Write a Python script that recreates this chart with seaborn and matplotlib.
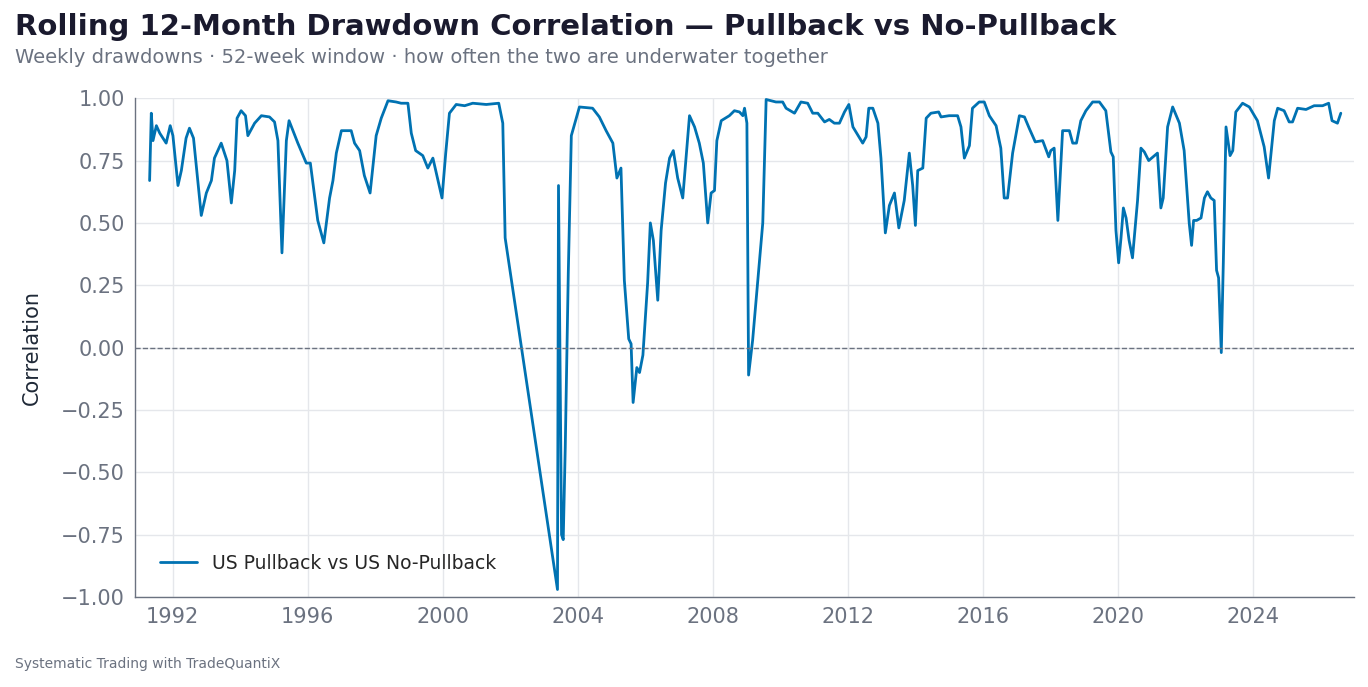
import matplotlib
matplotlib.use("Agg")
import matplotlib.pyplot as plt
import seaborn as sns
import pandas as pd
import numpy as np

# fractional years and rolling correlation
years = [1991.32, 1991.37, 1991.42, 1991.52, 1991.62, 1991.81, 1991.93, 1992.01, 1992.16, 1992.26,
         1992.40, 1992.50, 1992.62, 1992.85, 1993.00, 1993.15, 1993.24, 1993.44, 1993.61, 1993.74,
         1993.84, 1993.91, 1994.03, 1994.16, 1994.23, 1994.43, 1994.63, 1994.87, 1995.02, 1995.12,
         1995.24, 1995.37, 1995.45, 1995.71, 1995.96, 1996.08, 1996.30, 1996.48, 1996.65, 1996.75,
         1996.85, 1997.00, 1997.29, 1997.39, 1997.54, 1997.68, 1997.85, 1998.03, 1998.18, 1998.38,
         1998.62, 1998.77, 1998.97, 1999.07, 1999.20, 1999.41, 1999.56, 1999.71, 1999.81, 1999.98,
         2000.09, 2000.20, 2000.40, 2000.65, 2000.89, 2001.29, 2001.66, 2001.78, 2001.85, 2003.40,
         2003.43, 2003.52, 2003.57, 2003.63, 2003.72, 2003.81, 2004.05, 2004.44, 2004.64, 2004.84,
         2005.04, 2005.16, 2005.28, 2005.38, 2005.51, 2005.58, 2005.64, 2005.75, 2005.83, 2005.93,
         2006.07, 2006.15, 2006.24, 2006.37, 2006.47, 2006.60, 2006.72, 2006.83, 2006.96, 2007.11,
         2007.31, 2007.46, 2007.60, 2007.72, 2007.85, 2007.95, 2008.05, 2008.12, 2008.25, 2008.49,
         2008.64, 2008.79, 2008.89, 2008.94, 2009.01, 2009.06, 2009.18, 2009.48, 2009.58, 2009.87,
         2010.07, 2010.17, 2010.42, 2010.61, 2010.81, 2010.96, 2011.11, 2011.31, 2011.45, 2011.60,
         2011.75, 2011.90, 2012.03, 2012.15, 2012.44, 2012.54, 2012.62, 2012.74, 2012.89, 2012.98,
         2013.11, 2013.23, 2013.38, 2013.51, 2013.67, 2013.82, 2013.92, 2014.00, 2014.07, 2014.22,
         2014.32, 2014.46, 2014.69, 2014.76, 2015.00, 2015.25, 2015.35, 2015.45, 2015.60, 2015.69,
         2015.89, 2016.04, 2016.19, 2016.39, 2016.53, 2016.63, 2016.73, 2016.88, 2017.08, 2017.23,
         2017.37, 2017.55, 2017.77, 2017.95, 2018.01, 2018.11, 2018.22, 2018.36, 2018.56, 2018.66,
         2018.77, 2018.90, 2019.05, 2019.25, 2019.45, 2019.64, 2019.79, 2019.86, 2019.94, 2020.02,
         2020.09, 2020.16, 2020.24, 2020.33, 2020.43, 2020.58, 2020.68, 2020.78, 2020.91, 2021.08,
         2021.17, 2021.27, 2021.34, 2021.47, 2021.62, 2021.82, 2021.96, 2022.11, 2022.18, 2022.24,
         2022.33, 2022.46, 2022.56, 2022.65, 2022.75, 2022.85, 2022.92, 2022.98, 2023.06, 2023.12,
         2023.20, 2023.32, 2023.40, 2023.49, 2023.69, 2023.89, 2024.13, 2024.33, 2024.46, 2024.63,
         2024.73, 2024.92, 2025.07, 2025.17, 2025.32, 2025.57, 2025.81, 2026.06, 2026.24, 2026.34,
         2026.50, 2026.60]
corr = [0.67, 0.94, 0.83, 0.89, 0.86, 0.82, 0.89, 0.85, 0.65, 0.71,
        0.84, 0.88, 0.84, 0.53, 0.62, 0.67, 0.76, 0.82, 0.75, 0.58,
        0.71, 0.92, 0.95, 0.93, 0.85, 0.90, 0.93, 0.925, 0.905, 0.83,
        0.38, 0.83, 0.91, 0.82, 0.74, 0.74, 0.51, 0.42, 0.60, 0.67,
        0.78, 0.87, 0.87, 0.82, 0.79, 0.69, 0.62, 0.85, 0.92, 0.99,
        0.985, 0.98, 0.98, 0.86, 0.79, 0.77, 0.72, 0.76, 0.70, 0.60,
        0.78, 0.94, 0.975, 0.97, 0.98, 0.975, 0.98, 0.90, 0.44, -0.97,
        0.65, -0.75, -0.77, -0.40, 0.30, 0.85, 0.965, 0.96, 0.925, 0.87,
        0.82, 0.68, 0.72, 0.27, 0.035, 0.015, -0.22, -0.08, -0.10, -0.03,
        0.26, 0.50, 0.43, 0.19, 0.47, 0.66, 0.76, 0.79, 0.68, 0.60,
        0.93, 0.885, 0.82, 0.74, 0.50, 0.62, 0.63, 0.83, 0.91, 0.93,
        0.95, 0.945, 0.93, 0.96, 0.90, -0.11, 0.03, 0.50, 0.995, 0.985,
        0.985, 0.96, 0.94, 0.985, 0.98, 0.94, 0.94, 0.905, 0.915, 0.90,
        0.90, 0.945, 0.975, 0.885, 0.82, 0.845, 0.96, 0.96, 0.90, 0.76,
        0.46, 0.57, 0.62, 0.48, 0.59, 0.78, 0.65, 0.49, 0.71, 0.72,
        0.92, 0.94, 0.945, 0.925, 0.93, 0.93, 0.885, 0.76, 0.81, 0.96,
        0.985, 0.985, 0.93, 0.89, 0.80, 0.60, 0.60, 0.78, 0.93, 0.925,
        0.88, 0.825, 0.83, 0.765, 0.79, 0.80, 0.51, 0.87, 0.87, 0.82,
        0.82, 0.91, 0.95, 0.985, 0.985, 0.95, 0.785, 0.765, 0.47, 0.34,
        0.44, 0.56, 0.52, 0.43, 0.36, 0.59, 0.80, 0.785, 0.75, 0.77,
        0.78, 0.56, 0.60, 0.885, 0.965, 0.90, 0.79, 0.50, 0.41, 0.51,
        0.51, 0.52, 0.60, 0.625, 0.60, 0.59, 0.31, 0.28, -0.02, 0.34,
        0.885, 0.77, 0.79, 0.945, 0.98, 0.965, 0.91, 0.805, 0.68, 0.91,
        0.96, 0.95, 0.905, 0.905, 0.96, 0.955, 0.97, 0.97, 0.98, 0.91,
        0.90, 0.94]

df = pd.DataFrame({"year": years, "corr": corr})

sns.set_theme(style="whitegrid")
plt.rcParams['font.family'] = ['DejaVu Sans']

fig = plt.figure(figsize=(13.68, 6.87), dpi=100)
ax = fig.add_axes([0.099, 0.131, 0.891, 0.726])

sns.lineplot(data=df, x="year", y="corr", ax=ax, color="#0072B2", linewidth=2,
             label="US Pullback vs US No-Pullback")
ax.axhline(0, color="#6b7280", linestyle="--", linewidth=1)

ax.set_xlim(1990.9, 2027.0)
ax.set_ylim(-1.0, 1.0)
ax.set_xticks(np.arange(1992, 2025, 4))
ax.set_yticks(np.arange(-1.0, 1.01, 0.25))
ax.yaxis.set_major_formatter(matplotlib.ticker.FuncFormatter(lambda v, p: f"{v:.2f}".replace("-", "\u2212")))
ax.tick_params(labelsize=15, colors="#6b7280", length=4, width=1)
ax.set_xlabel("")
ax.set_ylabel("Correlation", fontsize=15, color="#1f2937", labelpad=14)
ax.grid(True, color="#e5e7eb", linewidth=1)
for s in ["top", "right"]:
    ax.spines[s].set_visible(False)
for s in ["left", "bottom"]:
    ax.spines[s].set_color("#6b7280")
    ax.spines[s].set_linewidth(1)

leg = ax.legend(loc="lower left", frameon=False, fontsize=13.5, borderaxespad=0.9)

fig.text(0.011, 0.96, "Rolling 12-Month Drawdown Correlation \u2014 Pullback vs No-Pullback",
         fontsize=21, fontweight="bold", color="#1a1a2e", va="center")
fig.text(0.011, 0.916, "Weekly drawdowns \u00b7 52-week window \u00b7 how often the two are underwater together",
         fontsize=14, color="#6b7280", va="center")
fig.text(0.011, 0.033, "Systematic Trading with TradeQuantiX", fontsize=10, color="#6b7280", va="center")

fig.savefig("out.png", dpi=100)
